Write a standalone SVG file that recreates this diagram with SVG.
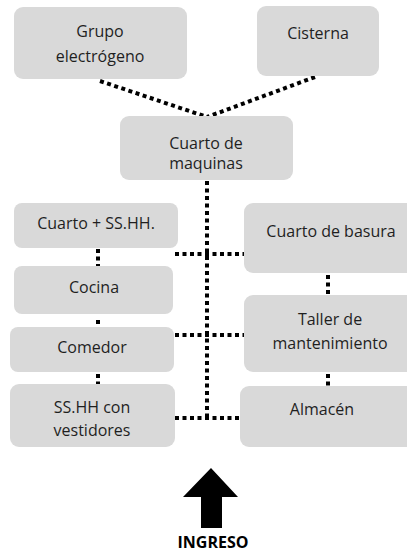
<svg xmlns="http://www.w3.org/2000/svg" width="407" height="556" viewBox="0 0 407 556">
<style>
.box{fill:#d9d9d9}
.t{font-family:"Open Sans","Liberation Sans",sans-serif;font-size:16px;fill:#1f1f1f;text-anchor:middle}
.d{stroke:#000;stroke-width:4;stroke-dasharray:4 3.5;fill:none}
.b{font-weight:bold;fill:#000}
</style>
<rect width="407" height="556" fill="#fff"/>
<g id="connectors">
<line class="d" x1="100" y1="81" x2="207" y2="117"/>
<line class="d" x1="315" y1="77" x2="207" y2="117"/>
<line class="d" x1="207" y1="181" x2="207" y2="418"/>
<line class="d" x1="175" y1="254" x2="244" y2="254"/>
<line class="d" x1="175" y1="335" x2="244" y2="335"/>
<line class="d" x1="175" y1="418" x2="240" y2="418"/>
<line class="d" x1="98" y1="249" x2="98" y2="266"/>
<line class="d" x1="98" y1="320" x2="98" y2="324"/>
<line class="d" x1="98" y1="374" x2="98" y2="384"/>
<line class="d" x1="328" y1="275" x2="328" y2="295"/>
<line class="d" x1="328" y1="374" x2="328" y2="386"/>
</g>
<g id="grupo"><rect class="box" x="14" y="7" width="173" height="72" rx="9"/><text class="t" x="100" y="37">Grupo</text><text class="t" x="100" y="62">electrógeno</text></g>
<g id="cisterna"><rect class="box" x="257" y="6" width="122" height="70" rx="9"/><text class="t" x="318" y="39">Cisterna</text></g>
<g id="maquinas"><rect class="box" x="120" y="116" width="173" height="64" rx="9"/><text class="t" x="206" y="149">Cuarto de</text><text class="t" x="206" y="169">maquinas</text></g>
<g id="cuarto"><rect class="box" x="14" y="203" width="164" height="45" rx="8"/><text class="t" x="96" y="229">Cuarto + SS.HH.</text></g>
<g id="basura"><rect class="box" x="244" y="203" width="175" height="70" rx="9"/><text class="t" x="331" y="237">Cuarto de basura</text></g>
<g id="cocina"><rect class="box" x="14" y="266" width="159" height="48" rx="8"/><text class="t" x="94" y="293">Cocina</text></g>
<g id="taller"><rect class="box" x="244" y="295" width="175" height="77" rx="9"/><text class="t" x="330" y="325">Taller de</text><text class="t" x="330" y="349">mantenimiento</text></g>
<g id="comedor"><rect class="box" x="10" y="327" width="164" height="45" rx="8"/><text class="t" x="92" y="353">Comedor</text></g>
<g id="sshh"><rect class="box" x="10" y="384" width="165" height="63" rx="9"/><text class="t" x="92" y="413">SS.HH con</text><text class="t" x="92" y="436">vestidores</text></g>
<g id="almacen"><rect class="box" x="240" y="386" width="179" height="61" rx="9"/><text class="t" x="322" y="415">Almacén</text></g>
<g id="ingreso"><polygon points="211,468 238,497 222,497 222,528 201,528 201,497 183,497" fill="#000"/><text class="t b" x="213" y="548">INGRESO</text></g>
</svg>
